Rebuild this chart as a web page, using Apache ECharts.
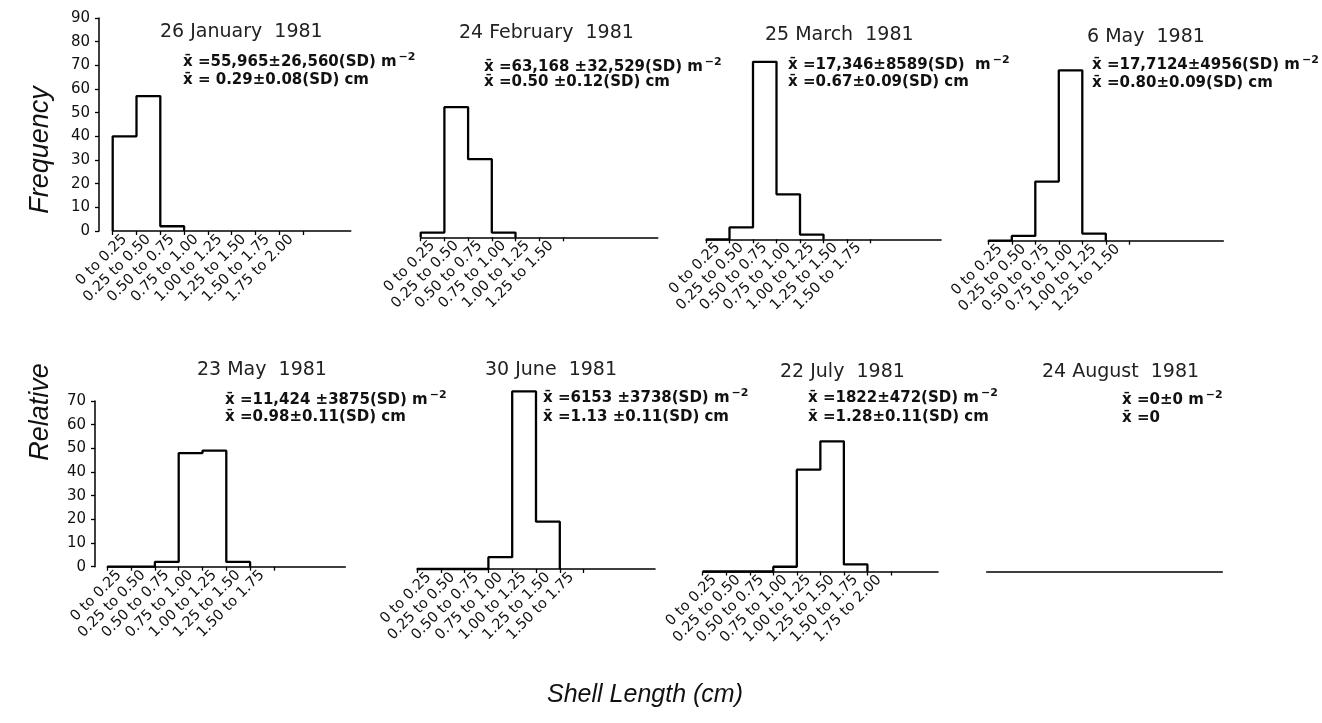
<!DOCTYPE html>
<html><head><meta charset="utf-8">
<script src="https://cdn.jsdelivr.net/npm/echarts@6/dist/echarts.min.js"></script>
<style>html,body{margin:0;padding:0;background:#fff}#c{width:1322px;height:723px}</style>
</head><body><div id="c"></div>
<script>
// ---------------- data ----------------
const binLabels = ['0 to 0.25','0.25 to 0.50','0.50 to 0.75','0.75 to 1.00','1.00 to 1.25','1.25 to 1.50','1.50 to 1.75','1.75 to 2.00'];
const binWidth = 0.25;
const binCount = 10;
const panelTitles = ['26 January  1981','24 February  1981','25 March  1981','6 May  1981','23 May  1981','30 June  1981','22 July  1981','24 August  1981'];
const freqJan26 = [40, 57, 2];
const freqFeb24 = [2, 55, 33, 2];
const freqMar25 = [0, 5, 75, 19, 2];
const freqMay06 = [0, 2, 25, 72, 3];
const freqMay23 = [0, 0, 2, 48, 49, 2];
const freqJun30 = [0, 0, 0, 5, 75, 20];
const freqJul22 = [0, 0, 0, 2, 43, 55, 3];
const freqAug24 = [];
const labelCounts = [8, 6, 7, 6, 7, 7, 8, 0];
const densityLines = ['x\u0304 =55,965\u00b126,560(SD)','x\u0304 =63,168 \u00b132,529(SD)','x\u0304 =17,346\u00b18589(SD) ','x\u0304 =17,7124\u00b14956(SD)','x\u0304 =11,424 \u00b13875(SD)','x\u0304 =6153 \u00b13738(SD)','x\u0304 =1822\u00b1472(SD)','x\u0304 =0\u00b10'];
const lengthLines = ['x\u0304 = 0.29\u00b10.08(SD) cm','x\u0304 =0.50 \u00b10.12(SD) cm','x\u0304 =0.67\u00b10.09(SD) cm','x\u0304 =0.80\u00b10.09(SD) cm','x\u0304 =0.98\u00b10.11(SD) cm','x\u0304 =1.13 \u00b10.11(SD) cm','x\u0304 =1.28\u00b10.11(SD) cm','x\u0304 =0'];
const yMaxRow1 = 90;
const yMaxRow2 = 70;
const yStep = 10;
const yTitleWords = ['Relative', 'Frequency'];
const xTitle = 'Shell Length (cm)';

// ---------------- layout ----------------
const freqs = [freqJan26, freqFeb24, freqMar25, freqMay06, freqMay23, freqJun30, freqJul22, freqAug24];
const grids = [
  {left:112.7, top:18,    width:238,   height:213},
  {left:420.7, top:24.3,  width:237,   height:213},
  {left:706,   top:26.3,  width:235,   height:213},
  {left:988.3, top:27.7,  width:235,   height:213},
  {left:107.3, top:401,   width:238,   height:165.7},
  {left:417,   top:403.3, width:238,   height:165.7},
  {left:702.7, top:405.8, width:235.3, height:165.7},
  {left:986.7, top:406,   width:235.6, height:165.7}
];
// separate grids that carry only the visible y axes (they sit left of the histograms)
const yAxisGrids = [
  {left:99, top:18,  width:10, height:213, max:yMaxRow1},
  {left:95, top:401, width:10, height:165.7, max:yMaxRow2}
];
const titlePos = [[160,31.7],[459,33],[765,35],[1087,37],[197,370],[485,370],[780,372],[1042,372]];
const statPos = [[183,62,80],[484,67,82],[788,65,82],[1092,65,83],[225,400,417],[543,398,417],[808,398,417],[1122,400,418]];

const FONT = 'DejaVu Sans, Liberation Sans, sans-serif';
const AXFONT = 'Liberation Sans, Arial, sans-serif';

function stepPoints(freq){
  if(!freq.length) return [];
  const pts = [[0,0]];
  freq.forEach((v,i)=>pts.push([i*binWidth, v]));
  pts.push([freq.length*binWidth, 0]);
  return pts;
}

const allGrids = grids.map(g=>Object.assign({outerBoundsMode:'none', containLabel:false}, g))
  .concat(yAxisGrids.map(g=>({outerBoundsMode:'none', containLabel:false, left:g.left, top:g.top, width:g.width, height:g.height})));

const xAxes = grids.map((g,i)=>{
  const n = labelCounts[i];
  const edges = []; for(let k=0;k<=n && n>0;k++) edges.push(k*binWidth);
  const centers = []; for(let k=0;k<n;k++) centers.push((k+0.5)*binWidth);
  return {
    type:'value', gridIndex:i, min:0, max:binCount*binWidth,
    axisLine:{show:true, onZero:false, lineStyle:{color:'#000', width:1.6}},
    axisTick:{show:n>0, length:4, customValues:edges, lineStyle:{color:'#000', width:1.3}},
    axisLabel:{show:n>0, customValues:centers, rotate:45, margin:6, fontSize:14.5, fontFamily:FONT, color:'#111',
      formatter:(v)=>binLabels[Math.round(v/binWidth-0.5)] || ''},
    splitLine:{show:false}
  };
}).concat(yAxisGrids.map((g,j)=>({type:'value', gridIndex:8+j, show:false, min:0, max:1})));

const yAxes = grids.map((g,i)=>({
  type:'value', gridIndex:i, min:0, max: i<4 ? yMaxRow1 : yMaxRow2, show:false
})).concat(yAxisGrids.map((g,j)=>({
  type:'value', gridIndex:8+j, min:0, max:g.max, interval:yStep, position:'left',
  axisLine:{show:true, onZero:false, lineStyle:{color:'#000', width:1.5}},
  axisTick:{show:true, length:4, lineStyle:{color:'#000', width:1.3}},
  axisLabel:{fontSize:15, margin:9, fontFamily:FONT, color:'#111'},
  splitLine:{show:false}
})));

const option = {
  animation:false,
  backgroundColor:'#fff',
  grid: allGrids,
  xAxis: xAxes,
  yAxis: yAxes,
  series: freqs.map((f,i)=>({
    type:'line', xAxisIndex:i, yAxisIndex:i, step:'end', data:stepPoints(f),
    symbol:'none', clip:false, silent:true,
    lineStyle:{color:'#000', width:2.3}
  })),
  graphic: [].concat(
    panelTitles.map((t,i)=>({type:'text', x:titlePos[i][0], y:titlePos[i][1],
      style:{text:t, fontSize:19, fontFamily:FONT, fill:'#222', align:'left', verticalAlign:'middle'}})),
    densityLines.map((t,i)=>({type:'text', x:statPos[i][0], y:statPos[i][1],
      style:{text:'{a|'+t+' m}{s|\u22122}', fill:'#111', align:'left', verticalAlign:'middle',
        rich:{a:{fontSize:15, fontWeight:'bold', fontFamily:FONT, fill:'#111', lineHeight:20},
              s:{fontSize:11, fontWeight:'bold', fontFamily:FONT, fill:'#111', verticalAlign:'top', padding:[0,0,0,2]}}}})),
    lengthLines.map((t,i)=>({type:'text', x:statPos[i][0], y:statPos[i][2],
      style:{text:t, fontSize:15, fontWeight:'bold', fontFamily:FONT, fill:'#111', align:'left', verticalAlign:'middle'}})),
    [
      {type:'text', x:40, y:412, rotation:Math.PI/2,
        style:{text:yTitleWords[0], fontSize:27, fontStyle:'italic', fontFamily:AXFONT, fill:'#111', align:'center', verticalAlign:'middle'}},
      {type:'text', x:40, y:150, rotation:Math.PI/2,
        style:{text:yTitleWords[1], fontSize:27, fontStyle:'italic', fontFamily:AXFONT, fill:'#111', align:'center', verticalAlign:'middle'}},
      {type:'text', x:645, y:695,
        style:{text:xTitle, fontSize:25, fontStyle:'italic', fontFamily:AXFONT, fill:'#111', align:'center', verticalAlign:'middle'}}
    ]
  )
};
const chart = echarts.init(document.getElementById('c'), null, {renderer:'canvas'});
chart.setOption(option);
</script>
</body></html>
